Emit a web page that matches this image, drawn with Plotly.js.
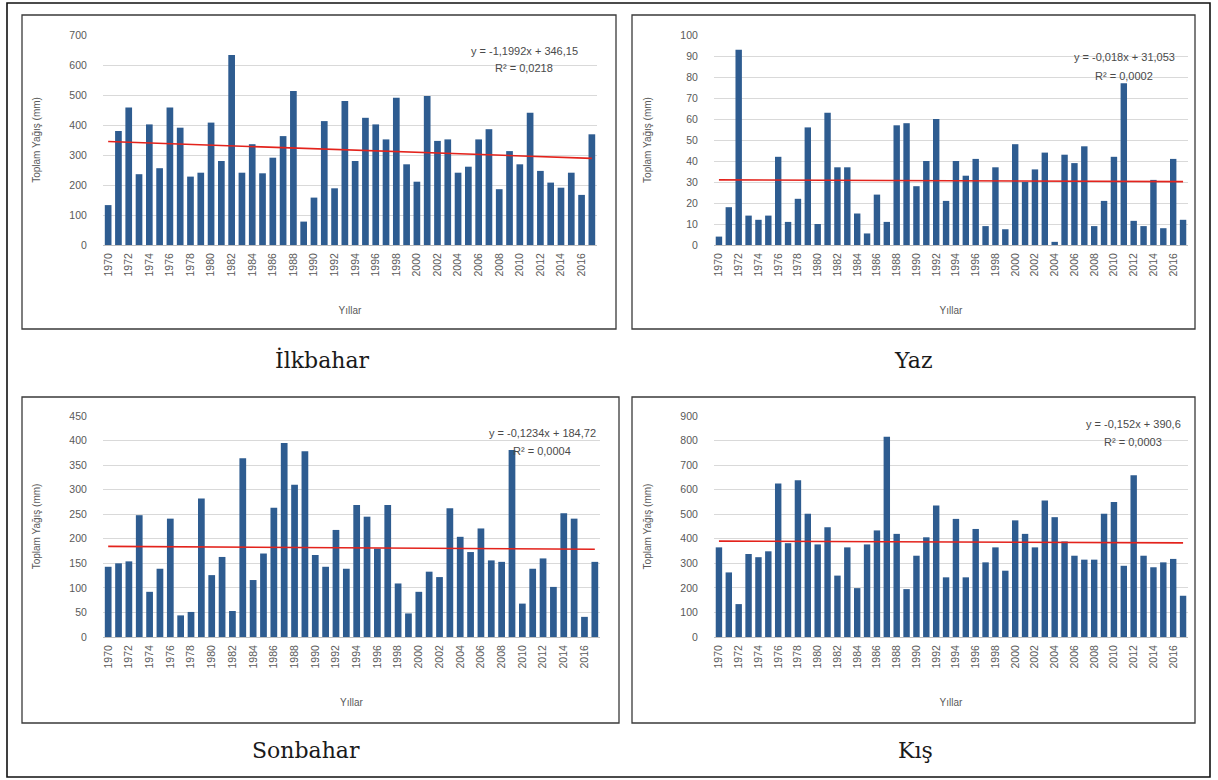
<!DOCTYPE html>
<html><head><meta charset="utf-8">
<script src="https://cdn.plot.ly/plotly-3.0.1.min.js"></script>
<style>html,body{margin:0;padding:0;background:#fff}#chart{width:1218px;height:780px}</style>
</head><body><div id="chart"></div>
<script>
const years=[1970,1971,1972,1973,1974,1975,1976,1977,1978,1979,1980,1981,1982,1983,1984,1985,1986,1987,1988,1989,1990,1991,1992,1993,1994,1995,1996,1997,1998,1999,2000,2001,2002,2003,2004,2005,2006,2007,2008,2009,2010,2011,2012,2013,2014,2015,2016,2017];
const tickYears=[1970,1972,1974,1976,1978,1980,1982,1984,1986,1988,1990,1992,1994,1996,1998,2000,2002,2004,2006,2008,2010,2012,2014,2016];
const spring=[133,380,458,236,402,256,458,391,228,241,408,280,633,241,336,239,291,363,513,78,158,413,189,480,280,424,402,352,491,269,211,497,347,352,241,261,352,386,186,313,269,441,247,208,191,241,167,369];
const summer=[4,18,93,14,12,14,42,11,22,56,10,63,37,37,15,5.5,24,11,57,58,28,40,60,21,40,33,41,9,37,7.5,48,30,36,44,1.5,43,39,47,9,21,42,77,11.5,9,31,8,41,12];
const autumn=[143,150,154,248,92,139,241,44,51,282,126,163,53,364,116,170,263,395,310,378,167,143,218,139,269,245,180,269,109,48,92,133,122,262,204,173,221,156,153,381,68,139,160,102,252,241,41,153];
const winter=[365,263,134,338,325,349,625,382,638,502,377,447,250,365,199,377,434,815,420,195,331,406,536,243,481,243,440,304,365,270,475,420,365,556,488,389,331,315,315,502,550,290,659,331,284,304,318,168];
const seasonNames=['İlkbahar','Yaz','Sonbahar','Kış'];
const trendSlopes=[-1.1992,-0.018,-0.1234,-0.152];
const trendIntercepts=[346.15,31.053,184.72,390.6];
const equationTexts=['y = -1,1992x + 346,15','y = -0,018x + 31,053','y = -0,1234x + 184,72','y = -0,152x + 390,6'];
const r2Texts=['R² = 0,0218','R² = 0,0002','R² = 0,0004','R² = 0,0003'];
const yMax=[700,100,450,900];
const yStep=[100,10,50,100];
const yTitle='Toplam Yağış (mm)';
const xTitle='Yıllar';

const W=1218,H=780;
const px=x=>x/W, py=y=>1-y/H;
const series=[spring,summer,autumn,winter];
const plotBox=[
  {x0:103,x1:597,y0:35,y1:245},
  {x0:714,x1:1188,y0:35,y1:245},
  {x0:103,x1:600,y0:416,y1:637},
  {x0:714,x1:1188,y0:416,y1:637}
];
const frameBox=[
  {x0:22,x1:616,y0:15,y1:329},
  {x0:632,x1:1195,y0:15,y1:329},
  {x0:22,x1:619,y0:397,y1:723},
  {x0:632,x1:1195,y0:397,y1:723}
];
const labelPos=[{x:322,y:360},{x:913,y:360},{x:306,y:750},{x:915,y:750}];
const eqPos=[{x:524,y:51,y2:68},{x:1124,y:57,y2:76},{x:542,y:433,y2:451},{x:1133,y:424,y2:442}];

const tickFont={family:'Liberation Sans, Arial, sans-serif',size:10.5,color:'#595959'};
const titleFont={family:'Liberation Sans, Arial, sans-serif',size:10,color:'#595959'};
const traces=[];const layout={width:W,height:H,margin:{l:0,r:0,t:0,b:0},showlegend:false,
  paper_bgcolor:'#fff',plot_bgcolor:'#fff',bargap:0.35,shapes:[],annotations:[]};

series.forEach((vals,k)=>{
  const sfx=k===0?'':String(k+1);
  traces.push({type:'bar',x:years,y:vals,xaxis:'x'+sfx,yaxis:'y'+sfx,
    marker:{color:'#2e5c90',line:{width:0}},hoverinfo:'x+y'});
  traces.push({type:'scatter',mode:'lines',x:years,
    y:years.map((yr,i)=>trendSlopes[k]*(i+1)+trendIntercepts[k]),
    xaxis:'x'+sfx,yaxis:'y'+sfx,line:{color:'#e3231c',width:1.6},hoverinfo:'skip'});
  const b=plotBox[k];
  layout['xaxis'+sfx]={domain:[px(b.x0),px(b.x1)],anchor:'y'+sfx,range:[1969.5,2017.5],
    tickmode:'array',tickvals:tickYears,ticktext:tickYears.map(String),tickangle:-90,
    tickfont:tickFont,showgrid:false,zeroline:false,showline:true,linecolor:'#bfbfbf',linewidth:1,
    ticks:'outside',ticklen:3,tickcolor:'rgba(0,0,0,0)',
    title:{text:xTitle,font:titleFont,standoff:31},fixedrange:true};
  layout['yaxis'+sfx]={domain:[py(b.y1),py(b.y0)],anchor:'x'+sfx,range:[0,yMax[k]],dtick:yStep[k],
    tickfont:tickFont,gridcolor:'#d9d9d9',gridwidth:1,zeroline:false,showline:false,
    ticks:'outside',ticklen:13,tickcolor:'rgba(0,0,0,0)',
    title:{text:yTitle,font:titleFont,standoff:26},fixedrange:true};
  const f=frameBox[k];
  layout.shapes.push({type:'rect',xref:'paper',yref:'paper',x0:px(f.x0),x1:px(f.x1),y0:py(f.y1),y1:py(f.y0),
    line:{color:'#3a3a3a',width:1.3},fillcolor:'rgba(0,0,0,0)'});
  layout.annotations.push({xref:'paper',yref:'paper',x:px(labelPos[k].x),y:py(labelPos[k].y),
    text:seasonNames[k],showarrow:false,xanchor:'center',yanchor:'middle',
    font:{family:'DejaVu Serif, Liberation Serif, serif',size:22,color:'#1a1a1a'}});
  layout.annotations.push({xref:'paper',yref:'paper',x:px(eqPos[k].x),y:py(eqPos[k].y),
    text:equationTexts[k],showarrow:false,xanchor:'center',yanchor:'middle',
    font:{family:'Liberation Sans, Arial, sans-serif',size:11,color:'#4a4a4a'}});
  layout.annotations.push({xref:'paper',yref:'paper',x:px(eqPos[k].x),y:py(eqPos[k].y2),
    text:r2Texts[k],showarrow:false,xanchor:'center',yanchor:'middle',
    font:{family:'Liberation Sans, Arial, sans-serif',size:11,color:'#4a4a4a'}});
});
layout.shapes.push({type:'rect',xref:'paper',yref:'paper',x0:px(7),x1:px(1210),y0:py(777),y1:py(3),
  line:{color:'#111',width:1.6},fillcolor:'rgba(0,0,0,0)'});

Plotly.newPlot('chart',traces,layout,{staticPlot:true,displayModeBar:false});
</script></body></html>
